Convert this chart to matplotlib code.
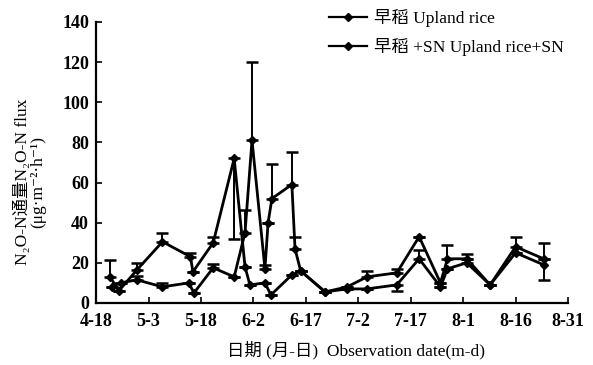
import matplotlib
matplotlib.use("Agg")
import matplotlib.pyplot as plt
from matplotlib.lines import Line2D

plt.rcParams['font.family'] = ['Liberation Serif', 'Noto Sans CJK SC', 'DejaVu Serif']

# days after 4-18
tick_days = [0, 15, 30, 45, 60, 75, 90, 105, 120, 135]
tick_labels = ['4-18', '5-3', '5-18', '6-2', '6-17', '7-2', '7-17', '8-1', '8-16', '8-31']

# 早稻 Upland rice
days_a = [4, 6.5, 11.7, 19, 27, 27.7, 33.5, 39.5, 42.6, 44, 48.3, 50, 56, 58.5,
          65.5, 71.8, 77.5, 86, 92.4, 98.5, 100.5, 106, 112.7, 120, 128]
flux_a = [13, 6, 16.5, 30.5, 23, 15.5, 30, 72, 18, 9, 10, 4, 14, 16,
          5.5, 8, 13, 15, 33, 10, 22, 22, 9, 28, 22]
err_a_lo = [0, 0, 0, 0, 0, 0, 0, 40, 0, 0, 0, 0, 0, 0,
            0, 0, 0, 0, 0, 0, 0, 0, 0, 0, 0]
err_a_hi = [8.5, 0, 3.5, 4.5, 2, 0, 3, 0, 0, 0, 0, 0, 0, 0,
            0, 0, 3, 2, 0, 0, 7, 2.5, 0, 5, 8]

# 早稻+SN Upland rice+SN
days_b = [4.5, 7, 11.7, 19, 26.5, 28, 33.5, 39.5, 42.6, 44.6, 48.3, 49.2, 50.3, 56,
          56.9, 58.5, 65.5, 71.8, 77.5, 86, 92.4, 98.5, 100.5, 106, 112.7, 120, 128]
flux_b = [8, 10, 11.5, 8, 10, 5, 17.5, 13, 35, 81, 17, 40, 52, 59,
          27, 16, 5.5, 7, 7, 9, 22, 8, 17, 20, 9, 25, 19]
err_b_lo = [0, 0, 0, 0, 0, 0, 0, 0, 0, 0, 0, 0, 0, 0,
            0, 0, 0, 0, 0, 3, 0, 0, 0, 0, 0, 0, 7.5]
err_b_hi = [0, 0, 2, 2, 0, 0, 2, 0, 11.5, 39, 2, 0, 17, 16,
            6, 0, 0, 0, 0, 0, 4.5, 0, 0, 2, 0, 0, 3]

labels = ['早稻 Upland rice', '早稻 +SN Upland rice+SN']

fig = plt.figure(figsize=(5.93, 3.65), dpi=100)
ax = fig.add_axes([0.162, 0.170, 0.796, 0.770])

style = dict(color='black', lw=2.0, marker='D', ms=4.5, capsize=4,
             elinewidth=1.4, capthick=1.8)
ax.errorbar(days_a, flux_a, yerr=[err_a_lo, err_a_hi], **style)
ax.errorbar(days_b, flux_b, yerr=[err_b_lo, err_b_hi], **style)

ax.set_xlim(0, 135)
ax.set_ylim(0, 140)
ax.set_xticks(tick_days)
ax.set_xticklabels(tick_labels)
ax.set_yticks(range(0, 141, 20))
ax.tick_params(direction='in', length=4, width=1.2, labelsize=13)
ax.tick_params(axis='x', pad=7)
ax.tick_params(axis='y', pad=5)
for lab in ax.get_xticklabels() + ax.get_yticklabels():
    lab.set_fontweight('bold')
ax.spines['top'].set_visible(False)
ax.spines['right'].set_visible(False)
ax.spines['left'].set_linewidth(1.6)
ax.spines['bottom'].set_linewidth(1.6)

ax.set_ylabel('N₂O-N通量N₂O-N flux\n(μg·m⁻²·h⁻¹)', fontsize=12.5, linespacing=1.0)
ax.yaxis.set_label_coords(-0.105, 0.43)
ax.set_xlabel('日期 (月-日)  Observation date(m-d)', fontsize=12.5)
ax.xaxis.set_label_coords(0.55, -0.135)

handles = [Line2D([], [], color='black', lw=1.6, marker='D', ms=4) for _ in labels]
ax.legend(handles, labels, loc='upper left', bbox_to_anchor=(0.46, 1.10),
          frameon=False, fontsize=12.5, handlelength=2.2, handletextpad=0.4,
          labelspacing=0.6)

fig.savefig('out.png', dpi=100)
